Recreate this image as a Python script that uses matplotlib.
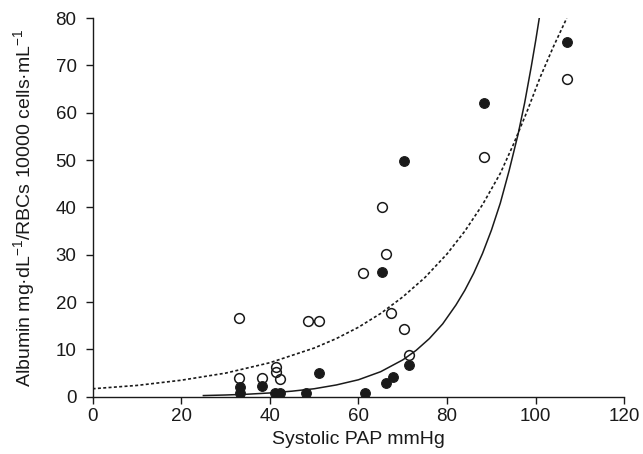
#!/usr/bin/env python3
"""Albumin per RBC vs systolic PAP, with exponential fit curves."""

import matplotlib
matplotlib.use("Agg")
import matplotlib.pyplot as plt

plt.rcParams["font.family"] = ["Liberation Sans", "DejaVu Sans"]
plt.rcParams["mathtext.fontset"] = "custom"
plt.rcParams["mathtext.rm"] = "Liberation Sans"
plt.rcParams["mathtext.it"] = "Liberation Sans:italic"

# filled circles
filled_x = [33.3, 33.3, 38.2, 41.2, 42.2, 48.2, 51.2, 61.4, 65.4, 66.1, 67.7,
            71.3, 70.3, 88.3, 107.1]
filled_y = [2.0, 0.7, 2.3, 0.7, 0.7, 0.7, 5.1, 0.7, 26.3, 3.0, 4.2,
            6.8, 49.9, 62.0, 75.0]

# open circles
open_x = [33.1, 33.1, 38.2, 41.4, 41.4, 42.3, 48.5, 51.1, 61.1, 65.3, 66.3,
          67.4, 70.3, 71.4, 88.3, 107.1]
open_y = [16.7, 3.9, 3.9, 6.3, 5.2, 3.8, 16.0, 16.0, 26.2, 40.1, 30.2,
          17.6, 14.4, 8.8, 50.7, 67.1]

# solid fit curve
solid_x = [25, 30, 35, 40, 45, 50, 55, 60, 65, 70, 73, 76, 79, 82, 84, 86, 88,
           90, 92, 94, 96, 97.5, 99, 100, 100.8]
solid_y = [0.26, 0.38, 0.55, 0.81, 1.19, 1.7, 2.5, 3.6, 5.3, 7.8, 9.8, 12.3,
           15.4, 19.4, 22.5, 26.1, 30.3, 35.2, 40.9, 47.8, 55.4, 62.1, 69.8,
           75.3, 80.0]

# dotted fit curve
dotted_x = [0, 10, 20, 30, 40, 50, 55, 60, 65, 70, 75, 80, 84, 88, 92, 95,
            98, 101, 104, 107]
dotted_y = [1.7, 2.4, 3.5, 5.0, 7.2, 10.3, 12.3, 14.7, 17.6, 21.1, 25.2, 30.2,
            35.0, 40.6, 47.2, 53.4, 60.2, 67.5, 74.0, 80.0]

x_ticks = [0, 20, 40, 60, 80, 100, 120]
y_ticks = [0, 10, 20, 30, 40, 50, 60, 70, 80]

fig = plt.figure(figsize=(6.43, 4.54), dpi=100)
ax = fig.add_axes([0.144, 0.126, 0.827, 0.834])

ink = "#1a1a1a"
ax.plot(dotted_x, dotted_y, color=ink, lw=1.2, linestyle=(0, (1.8, 1.4)))
ax.plot(solid_x, solid_y, color=ink, lw=1.1)
ax.plot(open_x, open_y, "o", ms=7, mfc="none", mec=ink, mew=1.1, linestyle="none")
ax.plot(filled_x, filled_y, "o", ms=7, mfc=ink, mec=ink, mew=0.8, linestyle="none")

ax.set_xlim(0, 120)
ax.set_ylim(0, 80)
ax.set_xticks(x_ticks)
ax.set_yticks(y_ticks)
for side in ("top", "right"):
    ax.spines[side].set_visible(False)
for side in ("left", "bottom"):
    ax.spines[side].set_linewidth(1.0)
    ax.spines[side].set_color(ink)
ax.tick_params(direction="out", length=5, width=1.0, colors=ink, labelsize=13.5)
ax.tick_params(axis="x", pad=3)
ax.tick_params(axis="y", pad=6.5)

ax.set_xlabel("Systolic PAP mmHg", fontsize=14, color=ink)
ax.set_ylabel("Albumin mg·dL$^{-1}$/RBCs 10000 cells·mL$^{-1}$",
              fontsize=14, color=ink)
ax.xaxis.set_label_coords(0.5, -0.09)
ax.yaxis.set_label_coords(-0.104, 0.5)

fig.savefig("out.png", dpi=100)
